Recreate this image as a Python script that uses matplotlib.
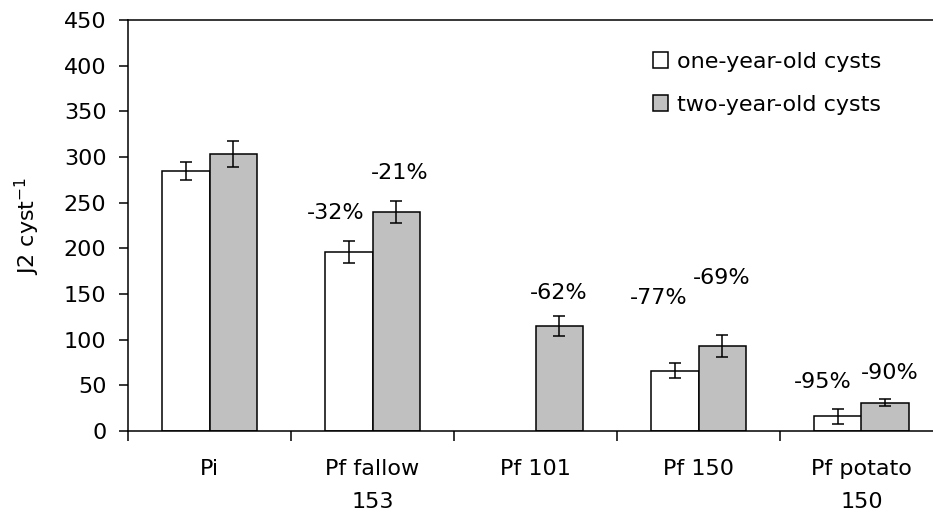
import matplotlib as mpl
from matplotlib import pyplot as plt
import numpy as np

# Шрифт: в оригинале Arial растянут по ширине, DejaVu ближе по габаритам
mpl.rcParams['font.family'] = ['DejaVu Sans']
mpl.rcParams['font.size'] = 16

# Данные
categories = ['Pi', 'Pf fallow\n153', 'Pf 101', 'Pf 150', 'Pf potato\n150']
one_year = [285, 196, np.nan, 66, 16]
one_year_err = [10, 12, np.nan, 8, 8]
two_year = [303, 240, 115, 93, 31]
two_year_err = [14, 12, 11, 12, 4]

# Подписи процентов: (индекс группы, серия, текст, высота подписи)
pct_labels = [
    (1, 0, '-32%', 239), (1, 1, '-21%', 283),
    (2, 1, '-62%', 151),
    (3, 0, '-77%', 146), (3, 1, '-69%', 168),
    (4, 0, '-95%', 54), (4, 1, '-90%', 64),
]
pct_shift = [-0.08, 0.02, 0.0, -0.1, 0.0, -0.09, 0.03]

fig = plt.figure(figsize=(9.33, 5.2), dpi=100)
ax = fig.add_axes([128 / 933, 89 / 520, 815 / 933, 411 / 520])

x = np.arange(len(categories))
w = 0.29
ax.bar(x - w / 2, one_year, w, color='white', edgecolor='black', linewidth=1.1,
       label='one-year-old cysts')
ax.bar(x + w / 2, two_year, w, color='#c0c0c0', edgecolor='black', linewidth=1.1,
       label='two-year-old cysts')
ax.errorbar(x - w / 2, one_year, yerr=one_year_err, fmt='none', ecolor='black',
            elinewidth=1.1, capsize=4.5, capthick=1.1)
ax.errorbar(x + w / 2, two_year, yerr=two_year_err, fmt='none', ecolor='black',
            elinewidth=1.1, capsize=4.5, capthick=1.1)

for (i, s, txt, yy), dx in zip(pct_labels, pct_shift):
    xx = x[i] + (w / 2 if s else -w / 2) + dx
    ax.text(xx, yy, txt, ha='center', va='center')

# Оси
ax.set_xlim(-0.5, len(categories) - 0.5)
ax.set_ylim(0, 450)
ax.set_yticks(np.arange(0, 451, 50))
ax.set_xticks(np.arange(-0.5, len(categories), 1))
ax.set_xticklabels([])
ax.set_xticks(x, minor=True)
ax.set_xticklabels(categories, minor=True, linespacing=1.85)
ax.tick_params(axis='x', which='major', direction='out', length=7.5, width=1.1)
ax.tick_params(axis='x', which='minor', length=0, pad=20)
ax.tick_params(axis='y', direction='out', length=6.5, width=1.1, pad=9)
for sp in ax.spines.values():
    sp.set_linewidth(1.1)
ax.set_ylabel(r'J2 cyst$^{\mathregular{-1}}$', labelpad=16)

# Легенда
ax.legend(loc='upper left', bbox_to_anchor=(0.644, 0.923), frameon=False,
          borderpad=0, borderaxespad=0,
          handlelength=0.7, handleheight=0.7, handletextpad=0.4, labelspacing=1.03)

plt.savefig('out.png', dpi=100)
